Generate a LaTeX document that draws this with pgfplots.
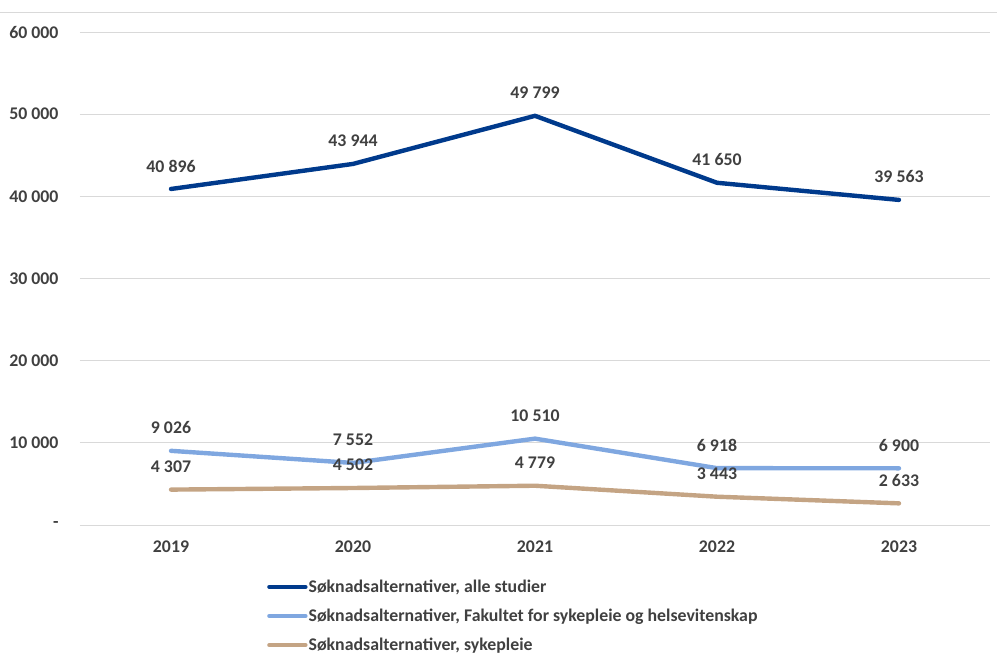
\documentclass[border=0pt]{standalone}
\usepackage{pgfplots}
\pgfplotsset{compat=1.18}
\usepackage{fontspec}
\setmainfont{Carlito}
\definecolor{txt}{HTML}{404040}
\definecolor{gridc}{HTML}{D9D9D9}
\definecolor{dblue}{HTML}{003A8C}
\definecolor{lblue}{HTML}{7FA7E0}
\definecolor{tan}{HTML}{C4A484}
\begin{document}
\begin{tikzpicture}
\useasboundingbox (-80pt,-146pt) rectangle (917pt,525pt);
\draw[gridc,line width=0.8pt] (-80pt,513pt) -- (917pt,513pt);
\begin{axis}[
  scale only axis, width=910pt, height=493pt,
  xmin=-0.5, xmax=4.5, ymin=0, ymax=60000,
  xtick={0,1,2,3,4}, xticklabels={2019,2020,2021,2022,2023},
  ytick={0,10000,20000,30000,40000,50000,60000},
  yticklabels={-\hspace{8pt},10 000,20 000,30 000,40 000,50 000,60 000},
  scaled y ticks=false,
  axis line style={draw=none}, tick style={draw=none},
  ymajorgrids, grid style={gridc,line width=0.8pt},
  ticklabel style={font=\fontsize{17.8}{20}\selectfont\bfseries, text=txt},
  yticklabel style={xshift=-18pt},
  xticklabel style={yshift=-12pt},
  /pgf/number format/assume math mode=true,
  clip=false,
  nodes near coords, point meta=explicit symbolic,
  every node near coord/.append style={anchor=center, yshift=23pt, font=\fontsize{17.8}{20}\selectfont\bfseries, text=txt},
  legend style={at={(0.2022,-0.103)}, anchor=north west, draw=none, fill=none,
    font=\fontsize{17.8}{20}\selectfont\bfseries, text=txt, row sep=11pt,
    nodes={inner xsep=1pt}},
  legend cell align=left,
  legend image code/.code={\draw[#1] (0pt,0pt) -- (36pt,0pt);},
]
\addplot[dblue, line width=4.4pt, line join=round, line cap=round] coordinates {
 (0,40896) [40 896] (1,43944) [43 944] (2,49799) [49 799] (3,41650) [41 650] (4,39563) [39 563]};
\addlegendentry{Søknadsalternativer, alle studier}
\addplot[lblue, line width=4.4pt, line join=round, line cap=round] coordinates {
 (0,9026) [9 026] (1,7552) [7 552] (2,10510) [10 510] (3,6918) [6 918] (4,6900) [6 900]};
\addlegendentry{Søknadsalternativer, Fakultet for sykepleie og helsevitenskap}
\addplot[tan, line width=4.4pt, line join=round, line cap=round] coordinates {
 (0,4307) [4 307] (1,4502) [4 502] (2,4779) [4 779] (3,3443) [3 443] (4,2633) [2 633]};
\addlegendentry{Søknadsalternativer, sykepleie}
\end{axis}
\end{tikzpicture}
\end{document}
